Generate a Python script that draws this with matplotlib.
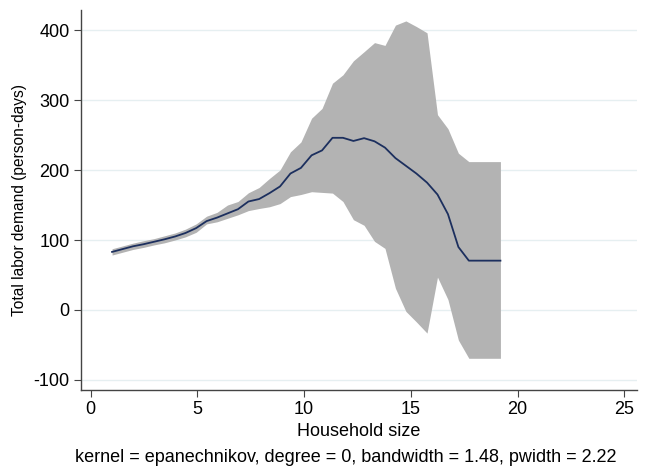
import matplotlib.pyplot as plt
import numpy as np

plt.rcParams['font.family'] = ['Liberation Sans', 'DejaVu Sans']
plt.rcParams['axes.unicode_minus'] = False

# evaluation grid (household size)
hhsize = [1.00, 1.49, 1.98, 2.48, 2.97, 3.46, 3.95, 4.44, 4.94, 5.43,
          5.92, 6.41, 6.90, 7.39, 7.89, 8.38, 8.87, 9.36, 9.85, 10.35,
          10.84, 11.33, 11.82, 12.31, 12.81, 13.30, 13.79, 14.28, 14.77, 15.26,
          15.76, 16.25, 16.74, 17.23, 17.72, 18.22, 18.71, 19.20]

# local polynomial smooth
smooth = [83, 87, 91, 94, 97.5, 101, 105, 110, 117, 127,
          132, 138, 144, 155, 158.5, 167, 176.5, 195, 203, 221,
          228, 246, 246, 241.5, 245.5, 241, 232, 217, 206, 195,
          182, 165, 137, 90, 70.5, 70.5, 70.5, 70.5]

# confidence band
upper = [87.5, 91.5, 95.5, 99, 102, 106, 110, 115.5, 123, 134,
         139.5, 150, 155, 167.5, 175, 188, 200, 226, 240, 274,
         288, 324, 336, 356, 369, 382, 378, 407, 413, 405,
         396, 279, 259, 224, 212, 212, 212, 212]
lower = [78.5, 82.5, 86.5, 89.5, 93, 96, 100, 104.5, 111, 123,
         126, 131, 136, 142, 145, 147.5, 152, 162, 165, 169,
         168, 167, 155, 129, 121, 98, 88, 31, -2, -17,
         -33, 47, 15, -43, -69, -69, -69, -69]

xticks = [0, 5, 10, 15, 20, 25]
yticks = [-100, 0, 100, 200, 300, 400]

fig = plt.figure(figsize=(6.48, 4.66), dpi=100)
ax = fig.add_axes([80.7/648, 76/466, (637-80.7)/648, 380/466])

for yt in yticks:
    ax.axhline(yt, color='#e6eff1', linewidth=1, zorder=0)

ax.fill_between(hhsize, lower, upper, color='#b3b3b3', linewidth=0, zorder=1)
ax.plot(hhsize, smooth, color='#1c2f5e', linewidth=1.3, zorder=2)

ax.set_xlim(-0.47, 25.6)
ax.set_ylim(-114.3, 428.6)
ax.set_xticks(xticks)
ax.set_yticks(yticks)

for s in ['top', 'right']:
    ax.spines[s].set_visible(False)
for s in ['left', 'bottom']:
    ax.spines[s].set_color('#444444')
    ax.spines[s].set_linewidth(1)
ax.tick_params(axis='both', direction='out', length=5, color='#444444',
               labelsize=13, pad=3)

ax.set_xlabel('Household size', fontsize=13)
ax.xaxis.set_label_coords(0.5, (390 - 423) / 380)
ax.set_ylabel('Total labor demand (person-days)', fontsize=11.2)
ax.yaxis.set_label_coords((27 - 80.7) / 556.3, 0.5)
fig.text(0.533, 1 - 457/466,
         'kernel = epanechnikov, degree = 0, bandwidth = 1.48, pwidth = 2.22',
         ha='center', va='center', fontsize=13)

fig.savefig('out.png', dpi=100)
